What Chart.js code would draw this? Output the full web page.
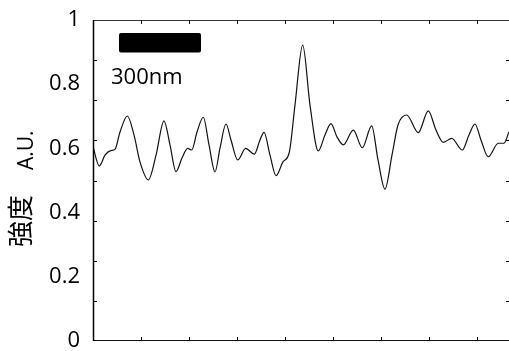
<!DOCTYPE html>
<html>
<head>
<meta charset="utf-8">
<script src="https://cdn.jsdelivr.net/npm/chart.js@4.4.1/dist/chart.umd.min.js"></script>
<style>
  html, body { margin: 0; background: #fff; }
</style>
</head>
<body>
<canvas id="chart" width="509" height="351"></canvas>
<script>
// position along the profile (one unit = one tick interval)
const xPos = [0, 0.131, 0.25, 0.369, 0.458, 0.563, 0.715, 0.854, 0.979, 1.152,
  1.313, 1.479, 1.604, 1.729, 1.854, 1.973, 2.056, 2.167, 2.298, 2.417,
  2.542, 2.646, 2.771, 2.875, 3.015, 3.181, 3.36, 3.479, 3.563, 3.688,
  3.813, 3.958, 4.09, 4.208, 4.369, 4.521, 4.694, 4.833, 4.958, 5.083,
  5.215, 5.423, 5.61, 5.806, 5.938, 6.083, 6.229, 6.354, 6.535, 6.777,
  6.985, 7.146, 7.298, 7.473, 7.694, 7.833, 7.958, 8.083, 8.235, 8.444,
  8.563, 8.667];
const intensity = [0.605, 0.545, 0.579, 0.593, 0.597, 0.651, 0.701, 0.642, 0.558, 0.502,
  0.579, 0.686, 0.611, 0.528, 0.570, 0.600, 0.595, 0.651, 0.697, 0.611,
  0.527, 0.601, 0.676, 0.626, 0.564, 0.600, 0.582, 0.626, 0.650, 0.579,
  0.515, 0.558, 0.588, 0.735, 0.922, 0.735, 0.592, 0.642, 0.677, 0.636,
  0.611, 0.657, 0.602, 0.670, 0.564, 0.473, 0.579, 0.673, 0.704, 0.649,
  0.717, 0.657, 0.619, 0.631, 0.595, 0.642, 0.676, 0.626, 0.574, 0.616,
  0.616, 0.652];

const yLabels = [0, 0.2, 0.4, 0.6, 0.8, 1];
const yMinor = [0.125, 0.25, 0.375, 0.5, 0.625, 0.75, 0.875];
const xMinor = [1, 2, 3, 4, 5, 6, 7, 8];

const FONT = '"Open Sans", "Noto Sans CJK JP", sans-serif';

// frame, inward ticks, axis title and the scale bar
const frame = {
  id: 'frame',
  afterDraw(chart) {
    const ctx = chart.ctx;
    const a = chart.chartArea;
    const xs = chart.scales.x, ys = chart.scales.y;
    ctx.save();
    ctx.strokeStyle = '#333';
    ctx.lineWidth = 1;
    ctx.beginPath();
    ctx.moveTo(a.left, a.top + 0.5); ctx.lineTo(a.right, a.top + 0.5);
    ctx.stroke();
    ctx.strokeStyle = '#111';
    ctx.beginPath();
    ctx.moveTo(a.left, a.bottom - 0.5); ctx.lineTo(a.right, a.bottom - 0.5);
    ctx.stroke();
    ctx.lineWidth = 1.5;
    ctx.strokeStyle = '#000';
    ctx.beginPath();
    ctx.moveTo(a.left + 0.5, a.top); ctx.lineTo(a.left + 0.5, a.bottom);
    ctx.stroke();
    ctx.lineWidth = 1;
    ctx.beginPath();
    yMinor.forEach(v => {
      const y = Math.round(ys.getPixelForValue(v)) + 0.5;
      ctx.moveTo(a.left, y); ctx.lineTo(a.left + 4, y);
      ctx.moveTo(a.right, y); ctx.lineTo(a.right - 3, y);
    });
    xMinor.forEach(v => {
      const x = Math.round(xs.getPixelForValue(v)) + 0.5;
      ctx.moveTo(x, a.bottom); ctx.lineTo(x, a.bottom - 4);
      ctx.moveTo(x, a.top); ctx.lineTo(x, a.top + 4);
    });
    ctx.stroke();

    // y axis title, kanji set a little larger than the latin part
    ctx.fillStyle = '#000';
    ctx.textBaseline = 'alphabetic';
    ctx.save();
    ctx.translate(30, 247);
    ctx.rotate(-Math.PI / 2);
    ctx.font = '26px "Noto Sans CJK JP", sans-serif';
    ctx.fillText('強度', 0, 0);
    ctx.restore();
    ctx.save();
    ctx.translate(33, 170);
    ctx.rotate(-Math.PI / 2);
    ctx.font = '21px "Open Sans", sans-serif';
    ctx.fillText('A.U.', 0, 0);
    ctx.restore();

    // 300nm scale bar
    ctx.beginPath();
    ctx.roundRect(a.left + 26, 33, 82, 19.5, 2);
    ctx.fill();
    ctx.font = '22px ' + FONT;
    ctx.fillText('300nm', a.left + 18, 84);
    ctx.restore();
  }
};

new Chart(document.getElementById('chart'), {
  type: 'line',
  data: {
    datasets: [{
      data: xPos.map((x, i) => ({ x: x, y: intensity[i] })),
      borderColor: '#111',
      borderWidth: 1.2,
      pointRadius: 0,
      cubicInterpolationMode: 'monotone',
      fill: false
    }]
  },
  options: {
    responsive: false,
    animation: false,
    layout: { padding: { top: 20, right: 0, left: 0, bottom: 0 } },
    plugins: { legend: { display: false }, tooltip: { enabled: false } },
    scales: {
      x: {
        type: 'linear',
        min: 0,
        max: 8.667,
        ticks: { display: false },
        grid: { display: false },
        border: { display: false },
        afterFit(s) { s.height = 10; }
      },
      y: {
        min: 0,
        max: 1,
        afterBuildTicks(s) { s.ticks = yLabels.map(v => ({ value: v })); },
        ticks: {
          color: '#000',
          padding: 13,
          font: { family: FONT, size: 22 },
          callback: v => String(+v.toFixed(1))
        },
        grid: { display: false, drawTicks: false },
        border: { display: false },
        afterFit(s) {
          s.width = 93;
          s.paddingTop = 0;
          s.paddingBottom = 0;
        }
      }
    }
  },
  plugins: [frame]
});
</script>
</body>
</html>
